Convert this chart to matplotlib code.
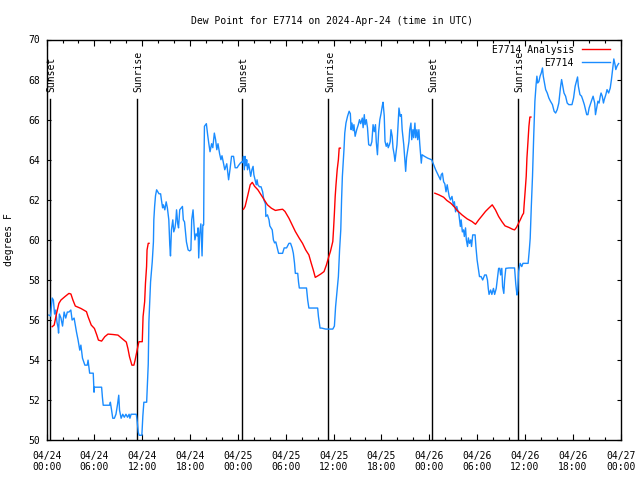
import matplotlib
matplotlib.use("Agg")
import matplotlib.pyplot as plt
import matplotlib.dates as mdates
import pandas as pd

# ---------------- data (hours since 2024-04-24 00:00 UTC, degrees F) ----------------
obs_hours = [0.29,0.5,0.7,0.85,1.0,1.15,1.3,1.45,1.5,1.6,1.8,2.0,2.2,2.4,2.6,2.8,3.04,3.2,3.45,3.75,3.95,4.16,4.3,4.5,4.8,5.1,5.2,5.4,5.85,5.95,6.0,6.9,7.0,7.1,7.9,8.0,8.3,8.5,8.7,8.9,9.05,9.15,9.35,9.55,9.75,9.95,10.15,10.35,10.45,10.6,11.25,11.35,11.5,11.6,11.95,12.07,12.2,12.55,12.6,12.75,12.83,13.04,13.25,13.4,13.45,13.55,13.66,13.8,14.1,14.3,14.4,14.55,14.65,14.83,15.0,15.15,15.33,15.45,15.54,15.66,15.83,15.95,16.1,16.2,16.3,16.45,16.55,16.7,16.9,17.04,17.15,17.3,17.4,17.54,17.75,17.95,18.1,18.2,18.37,18.45,18.6,18.75,18.9,19.0,19.08,19.2,19.35,19.5,19.6,19.7,19.75,19.8,20.04,20.2,20.35,20.5,20.7,20.85,21.04,21.2,21.35,21.5,21.7,21.87,22.0,22.2,22.35,22.6,22.83,23.0,23.2,23.45,23.65,23.9,24.05,24.3,
             24.5,24.6,24.7,24.8,24.9,25.0,25.1,25.2,25.35,25.6,25.75,25.9,26.0,26.3,26.4,26.5,26.7,26.9,27.1,27.25,27.45,27.5,27.7,27.9,28.0,28.3,28.45,28.6,28.75,28.9,29.1,29.6,29.8,30.1,30.4,30.6,30.8,30.95,31.1,31.2,31.5,31.6,31.7,32.6,32.75,32.9,34.0,34.1,34.3,34.5,35.0,35.9,36.1,36.25,36.45,36.6,36.75,36.9,37.0,37.1,37.3,37.4,37.55,37.75,37.95,38.1,38.2,38.3,38.45,38.55,38.7,38.9,39.1,39.25,39.4,39.6,39.7,39.85,39.95,40.1,40.25,40.4,40.65,40.8,40.95,41.1,41.25,41.35,41.5,41.65,41.8,41.95,42.1,42.2,42.35,42.45,42.6,42.75,42.85,43.0,43.1,43.2,43.35,43.45,43.6,43.7,43.85,43.95,44.1,44.2,44.35,44.5,44.6,44.8,44.9,45.04,45.15,45.3,45.45,45.55,45.7,45.8,45.95,46.05,46.2,46.3,46.45,46.55,46.7,46.8,46.9,47.0,47.1,47.4,47.8,
             48.3,48.5,48.8,49.0,49.2,49.4,49.5,49.65,49.8,49.95,50.1,50.25,50.35,50.5,50.65,50.85,50.95,51.05,51.15,51.3,51.45,51.55,51.7,51.9,52.0,52.15,52.3,52.4,52.55,52.65,52.8,52.9,53.05,53.2,53.3,53.45,53.75,53.85,54.0,54.15,54.3,54.5,54.7,54.95,55.15,55.3,55.4,55.5,55.7,55.85,56.05,56.2,56.4,56.55,56.7,56.85,56.95,57.1,57.2,57.35,57.45,57.6,58.0,58.7,58.85,59.0,59.1,59.2,59.4,59.6,59.75,60.0,60.4,60.55,60.66,60.8,60.95,61.1,61.25,61.4,61.5,61.6,61.75,61.9,62.05,62.2,62.3,62.45,62.6,62.8,63.0,63.2,63.45,63.66,63.85,64.05,64.25,64.45,64.6,64.75,64.9,65.1,65.3,65.5,65.9,66.1,66.3,66.6,66.7,66.9,67.1,67.25,67.45,67.6,67.75,67.9,68.05,68.25,68.4,68.55,68.75,68.85,69.0,69.15,69.3,69.45,69.55,69.7,69.85,69.95,70.15,70.3,70.5,70.7,70.85,71.0,71.15,71.3,71.4,71.55,71.75]
obs_values = [56.25,56.2,57.1,57.0,56.3,56.5,55.9,55.6,55.35,56.3,56.1,55.7,56.4,56.1,56.4,56.4,56.5,56.0,56.1,55.4,55.0,54.5,54.75,54.1,53.75,53.75,54.0,53.35,53.35,52.4,52.65,52.65,52.15,51.75,51.75,51.9,51.1,51.1,51.3,51.8,52.25,51.5,51.1,51.3,51.15,51.3,51.15,51.3,51.1,51.3,51.3,51.0,50.4,50.25,50.25,51.2,51.9,51.9,52.4,53.8,55.9,57.9,58.9,59.9,61.0,61.67,62.2,62.5,62.3,62.3,62.0,61.6,61.75,61.5,61.9,61.6,61.0,59.75,59.2,60.5,61.0,60.4,60.6,60.9,61.5,60.8,60.6,61.5,61.6,61.67,61.0,60.9,60.5,59.9,59.5,59.45,59.5,61.0,61.5,61.0,60.0,60.3,60.2,60.6,59.1,60.3,60.8,59.2,60.75,60.75,64.1,65.67,65.8,65.25,64.8,64.4,64.8,64.6,65.33,65.0,64.5,64.8,64.3,64.0,64.2,63.8,63.5,63.8,63.0,63.5,64.17,64.17,63.6,63.6,63.7,63.83,
              63.9,63.85,64.17,63.5,64.17,63.7,64.0,63.5,63.8,63.17,63.5,63.67,63.25,62.75,63.0,62.75,62.65,62.65,62.4,62.0,61.8,61.17,61.25,61.0,60.7,60.5,60.0,59.85,59.9,59.65,59.33,59.33,59.6,59.6,59.83,59.83,59.6,59.33,58.83,58.33,58.33,57.9,57.6,57.6,57.0,56.6,56.6,56.17,55.6,55.6,55.55,55.55,55.7,56.67,57.5,58.17,59.5,60.5,62.0,63.17,64.5,65.33,65.83,66.17,66.42,66.3,65.5,65.83,65.45,65.75,65.17,65.5,65.75,66.0,65.8,66.08,65.6,66.25,65.75,66.0,65.6,64.75,64.7,64.9,65.75,65.4,65.75,64.9,64.25,65.4,66.0,66.3,66.67,66.87,66.2,64.92,64.67,64.83,64.6,64.75,64.9,65.5,65.17,64.6,64.25,63.92,64.4,64.75,65.8,66.58,66.17,66.25,65.5,64.75,64.17,63.42,64.1,64.5,64.9,65.5,65.83,65.0,65.5,65.1,65.83,65.1,65.5,65.0,65.5,64.83,64.33,63.83,64.25,64.17,64.08,
              64.0,63.8,63.5,63.33,63.17,63.0,63.25,63.33,62.9,62.8,62.4,62.75,62.5,62.17,62.0,62.17,61.9,61.67,61.9,61.4,61.67,61.5,61.33,60.67,61.0,60.4,60.5,60.17,60.6,60.0,59.67,60.1,59.83,60.0,59.67,60.25,60.25,59.67,59.0,58.58,58.17,58.17,58.0,58.25,58.25,58.0,57.58,57.28,57.5,57.28,57.58,57.28,57.58,58.08,58.58,58.58,58.25,58.58,57.67,57.33,58.0,58.58,58.6,58.6,57.8,57.25,57.5,58.42,58.83,58.67,58.83,58.83,58.83,59.5,60.08,61.67,63.17,65.17,66.92,67.75,68.17,67.83,67.9,68.17,68.33,68.58,68.17,67.83,67.5,67.33,67.08,66.92,66.75,66.42,66.33,66.5,66.83,67.58,68.0,67.67,67.33,67.17,66.83,66.75,66.75,67.08,67.67,68.13,67.67,67.25,67.17,67.0,66.75,66.5,66.25,66.25,66.58,66.83,67.0,67.17,66.83,66.25,66.58,66.92,66.83,67.17,67.33,67.17,66.83,67.0,67.25,67.5,67.33,67.58,68.0,68.5,69.03,68.75,68.5,68.67,68.8]

ana1_hours = [0.7,0.95,1.25,1.54,1.8,2.3,2.8,3.05,3.3,3.6,4.3,5.0,5.2,5.6,6.0,6.3,6.5,6.9,7.3,7.7,8.3,8.95,9.45,10.0,10.2,10.4,10.7,10.95,11.1,11.37,11.58,12.0,12.1,12.3,12.4,12.54,12.6,12.75,12.85]
ana1_values = [55.67,55.75,56.33,56.83,57.0,57.17,57.33,57.3,57.0,56.7,56.58,56.42,56.17,55.75,55.58,55.25,55.0,54.95,55.17,55.3,55.28,55.25,55.08,54.9,54.58,54.17,53.75,53.75,54.0,54.53,54.92,54.92,56.17,56.92,57.83,58.67,59.5,59.83,59.83]
ana2_hours = [24.7,24.9,25.25,25.54,25.8,26.1,26.5,26.9,27.3,27.7,28.2,28.7,29.1,29.6,29.9,30.4,30.8,31.2,31.7,32.1,32.5,32.9,33.2,33.45,33.7,34.0,34.4,34.8,35.1,35.4,35.6,35.9,36.0,36.1,36.2,36.3,36.45,36.6,36.7,36.85]
ana2_values = [61.53,61.67,62.25,62.75,62.87,62.67,62.5,62.25,62.0,61.75,61.58,61.47,61.5,61.53,61.42,61.08,60.75,60.42,60.08,59.83,59.5,59.25,58.83,58.5,58.13,58.2,58.3,58.42,58.75,59.17,59.42,59.92,60.58,61.33,62.17,62.75,63.5,64.0,64.58,64.58]
ana3_hours = [48.7,49.2,49.8,50.2,50.7,51.1,51.5,52.1,52.75,53.35,53.8,54.2,54.65,55.05,55.45,55.9,56.3,56.7,57.1,57.5,58.0,58.45,58.7,58.95,59.2,59.45,59.7,59.83,59.9,60.04,60.16,60.25,60.37,60.5,60.62,60.75]
ana3_values = [62.33,62.25,62.13,61.97,61.83,61.67,61.47,61.25,61.05,60.92,60.78,61.0,61.22,61.42,61.58,61.75,61.5,61.17,60.92,60.7,60.62,60.53,60.5,60.63,60.83,61.03,61.25,61.33,61.75,62.5,63.17,64.08,64.83,65.67,66.13,66.13]

sunset_hours = [0.45, 24.45, 48.33]
sunrise_hours = [11.3, 35.33, 59.15]
event_top = 67.05

station = "E7714"
title = "Dew Point for E7714 on 2024-Apr-24 (time in UTC)"
ylabel = "degrees F"
ymin, ymax = 50, 70
start = pd.Timestamp("2024-04-24 00:00")
end = pd.Timestamp("2024-04-27 00:00")

def to_time(hours):
    return start + pd.to_timedelta(hours, unit="h")

# ---------------- plotting ----------------
FONT = "DejaVu Sans Mono"
FS = 7
plt.rcParams["font.family"] = FONT
plt.rcParams["font.size"] = FS

fig = plt.figure(figsize=(6.4, 4.8), dpi=100)
ax = fig.add_axes([46.6/640, 1-440.3/480, (620.6-46.6)/640, (440.3-39.5)/480])

blue = "#1a8cff"
red = "#ff0000"

for hrs in sunset_hours:
    t = to_time(hrs)
    ax.plot([t, t], [ymin, event_top], color="black", lw=1.0, zorder=1)
    ax.annotate("Sunset", xy=(t, event_top), xytext=(1.2, 5), textcoords="offset points",
                rotation=90, ha="center", va="bottom", fontsize=FS)
for hrs in sunrise_hours:
    t = to_time(hrs)
    ax.plot([t, t], [ymin, event_top], color="black", lw=1.0, zorder=1)
    ax.annotate("Sunrise", xy=(t, event_top), xytext=(1.2, 5), textcoords="offset points",
                rotation=90, ha="center", va="bottom", fontsize=FS)

ax.plot(to_time(ana1_hours), ana1_values, color=red, lw=1.0, label=station + " Analysis", zorder=3)
ax.plot(to_time(ana2_hours), ana2_values, color=red, lw=1.0, zorder=3)
ax.plot(to_time(ana3_hours), ana3_values, color=red, lw=1.0, zorder=3)
ax.plot(to_time(obs_hours), obs_values, color=blue, lw=1.0, label=station, zorder=2)

ax.set_xlim(start, end)
ax.set_ylim(ymin, ymax)
ax.set_yticks(range(ymin, ymax + 1, 2))
ax.xaxis.set_major_locator(mdates.HourLocator(byhour=[0, 6, 12, 18]))
ax.xaxis.set_minor_locator(mdates.HourLocator(byhour=list(range(0, 24, 2))))
ax.xaxis.set_major_formatter(mdates.DateFormatter("%m/%d\n%H:%M"))

ax.tick_params(axis="both", which="both", direction="in", top=True, right=True, width=0.8, colors="black")
ax.tick_params(axis="x", which="major", length=4.0, pad=7.5)
ax.tick_params(axis="x", which="minor", length=2.2)
ax.tick_params(axis="y", which="major", length=3.0, pad=5)
for lab in ax.get_xticklabels():
    lab.set_horizontalalignment("center")
for sp in ax.spines.values():
    sp.set_linewidth(1.0)

ax.set_ylabel(ylabel, fontsize=FS)
ax.yaxis.set_label_coords(-0.057, 0.5)
fig.text(0.518, 1 - 20.5/480, title, ha="center", va="center", fontsize=FS)

leg = ax.legend(loc="upper right", bbox_to_anchor=(0.9815, 0.9875), markerfirst=False,
                frameon=False, fontsize=FS, handlelength=2.9, handletextpad=0.82,
                labelspacing=0.33, borderaxespad=0.0, borderpad=0.0)

fig.savefig("out.png", dpi=100)
